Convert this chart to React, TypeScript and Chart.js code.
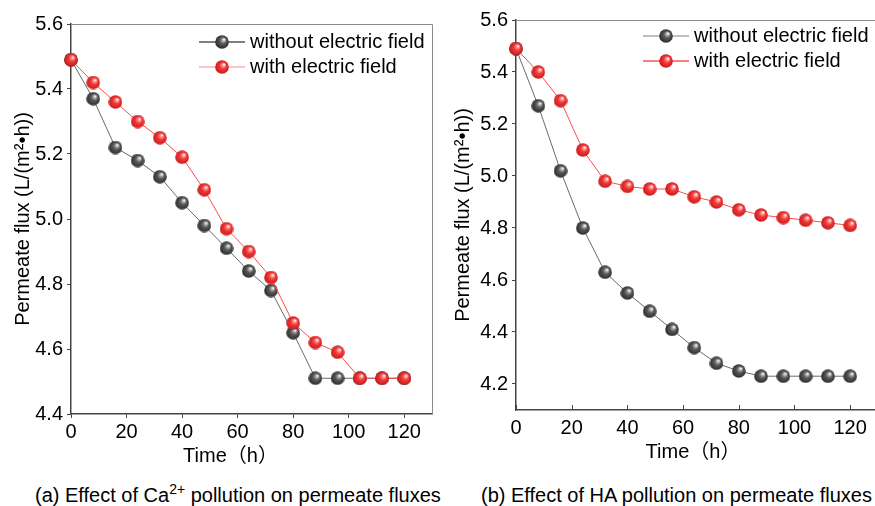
import React, { useEffect, useRef } from 'react';
import { Chart, registerables } from 'chart.js';
Chart.register(...registerables);

const timeH = [0, 8, 16, 24, 32, 40, 48, 56, 64, 72, 80, 88, 96, 104, 112, 120];
const caWithout = [5.49, 5.37, 5.22, 5.18, 5.13, 5.05, 4.98, 4.91, 4.84, 4.78, 4.65, 4.51, 4.51, 4.51, 4.51, 4.51];
const caWith = [5.49, 5.42, 5.36, 5.30, 5.25, 5.19, 5.09, 4.97, 4.90, 4.82, 4.68, 4.62, 4.59, 4.51, 4.51, 4.51];
const haWithout = [5.49, 5.27, 5.02, 4.80, 4.63, 4.55, 4.48, 4.41, 4.34, 4.28, 4.25, 4.23, 4.23, 4.23, 4.23, 4.23];
const haWith = [5.49, 5.40, 5.29, 5.10, 4.98, 4.96, 4.95, 4.95, 4.92, 4.90, 4.87, 4.85, 4.84, 4.83, 4.82, 4.81];
const xTicks = [0, 20, 40, 60, 80, 100, 120];
const yTicksA = [4.4, 4.6, 4.8, 5.0, 5.2, 5.4, 5.6];
const yTicksB = [4.2, 4.4, 4.6, 4.8, 5.0, 5.2, 5.4, 5.6];
const seriesLabels = ['without electric field', 'with electric field'];
const yTitle = 'Permeate flux (L/(m²•h))';
const xTitle = 'Time（h）';

const FONT = '"Liberation Sans", Arial, "Noto Sans CJK SC", sans-serif';

function makeSphere(stops: [number, string][]) {
  const c = document.createElement('canvas');
  const s = 14;
  c.width = s;
  c.height = s;
  const ctx = c.getContext('2d')!;
  const g = ctx.createRadialGradient(9.2, 4.4, 0.3, 7, 7, 7);
  stops.forEach(([o, col]) => g.addColorStop(o, col));
  ctx.fillStyle = g;
  ctx.beginPath();
  ctx.arc(7, 7, 6.8, 0, Math.PI * 2);
  ctx.fill();
  return c;
}

const legendPlugin = {
  id: 'insideLegend',
  afterDraw(chart: any, _args: any, opts: any) {
    const { ctx, chartArea } = chart;
    const x0 = chartArea.left + opts.dx;
    const y0 = chartArea.top + opts.dy;
    chart.data.datasets.forEach((ds: any, i: number) => {
      const y = y0 + i * opts.rowH;
      ctx.save();
      ctx.strokeStyle = opts.lineColors[i];
      ctx.lineWidth = 1.5;
      ctx.beginPath();
      ctx.moveTo(x0, y);
      ctx.lineTo(x0 + 46, y);
      ctx.stroke();
      const img = ds.pointStyle;
      ctx.drawImage(img, x0 + 23 - img.width / 2, y - img.height / 2);
      ctx.fillStyle = '#000';
      ctx.font = '20px ' + FONT;
      ctx.textBaseline = 'middle';
      ctx.textAlign = 'left';
      ctx.fillText(ds.label, x0 + 51, y);
      ctx.restore();
    });
  },
};

const framePlugin = {
  id: 'frame',
  afterDraw(chart: any, _args: any, opts: any) {
    const { ctx, chartArea: a } = chart;
    ctx.save();
    ctx.strokeStyle = opts.color;
    ctx.lineWidth = 1;
    ctx.beginPath();
    ctx.moveTo(a.left, a.top + 0.5);
    ctx.lineTo(a.right + 0.5, a.top + 0.5);
    ctx.lineTo(a.right + 0.5, a.bottom);
    ctx.stroke();
    if (opts.innerXTicks) {
      const xs = chart.scales.x;
      ctx.strokeStyle = '#444';
      ctx.lineWidth = 1;
      xs.ticks.forEach((t: any) => {
        const px = Math.round(xs.getPixelForValue(t.value)) + 0.5;
        ctx.beginPath();
        ctx.moveTo(px, a.bottom);
        ctx.lineTo(px, a.bottom - 5);
        ctx.stroke();
      });
    }
    ctx.fillStyle = '#000';
    ctx.font = '20px ' + FONT;
    ctx.textAlign = 'center';
    ctx.textBaseline = 'middle';
    ctx.fillText(opts.xTitle, (a.left + a.right) / 2 + opts.xTitleDx, a.bottom + opts.xTitleDy);
    ctx.restore();
  },
};

function makeConfig(p: any, black: HTMLCanvasElement, red: HTMLCanvasElement): any {
  return {
    type: 'line',
    data: {
      datasets: [
        {
          label: seriesLabels[0],
          data: timeH.map((t, i) => ({ x: t, y: p.without[i] })),
          borderColor: '#6a6a6a',
          borderWidth: 1,
          pointStyle: black,
          pointRadius: 7,
          clip: false,
          order: 1,
        },
        {
          label: seriesLabels[1],
          data: timeH.map((t, i) => ({ x: t, y: p.withE[i] })),
          borderColor: '#ff4a4a',
          borderWidth: 1,
          pointStyle: red,
          pointRadius: 7,
          clip: false,
          order: 0,
        },
      ],
    },
    options: {
      responsive: false,
      animation: false,
      events: [],
      layout: { padding: p.padding },
      plugins: {
        legend: { display: false },
        tooltip: { enabled: false },
        insideLegend: p.legend,
        frame: { color: '#8a8a8a', innerXTicks: p.innerXTicks, xTitle, xTitleDx: p.xTitleDx, xTitleDy: 42 },
      },
      scales: {
        x: {
          type: 'linear',
          min: 0,
          max: 130,
          afterBuildTicks: (s: any) => {
            s.ticks = xTicks.map((v) => ({ value: v }));
          },
          afterFit: (s: any) => {
            s.height = p.xAxisHeight;
          },
          ticks: {
            color: '#000',
            font: { size: 20, family: FONT },
            padding: p.innerXTicks ? 6 : 2,
            maxRotation: 0,
            callback: (v: any) => String(v),
          },
          grid: {
            drawOnChartArea: false,
            drawTicks: !p.innerXTicks,
            tickLength: 4,
            color: '#444',
          },
          border: { display: true, color: '#444', width: 1.5 },
        },
        y: {
          type: 'linear',
          min: p.yMin,
          max: 5.6,
          afterBuildTicks: (s: any) => {
            s.ticks = p.yTicks.map((v: number) => ({ value: v }));
          },
          afterFit: (s: any) => {
            s.width = p.yAxisWidth;
          },
          ticks: {
            color: '#000',
            font: { size: 20, family: FONT },
            padding: 4,
            callback: (v: any) => Number(v).toFixed(1),
          },
          grid: { drawOnChartArea: false, drawTicks: true, tickLength: 4, color: '#444' },
          border: { display: true, color: '#444', width: 1.5 },
          title: {
            display: true,
            text: yTitle,
            color: '#000',
            font: { size: 20, family: FONT },
            padding: { top: 11, bottom: 0 },
          },
        },
      },
    },
    plugins: [legendPlugin, framePlugin],
  };
}

export default function App() {
  const refA = useRef<HTMLCanvasElement>(null);
  const refB = useRef<HTMLCanvasElement>(null);

  useEffect(() => {
    const black = makeSphere([
      [0, '#ffffff'],
      [0.18, '#b0b0b0'],
      [0.45, '#5a5a5a'],
      [1, '#2a2a2a'],
    ]);
    const red = makeSphere([
      [0, '#ffffff'],
      [0.18, '#ff9a9a'],
      [0.45, '#f23a3a'],
      [1, '#c81818'],
    ]);
    const chartA = new Chart(
      refA.current!,
      makeConfig(
        {
          without: caWithout,
          withE: caWith,
          yMin: 4.4,
          yTicks: yTicksA,
          yAxisWidth: 71,
          xAxisHeight: 56,
          padding: { top: 24, right: 7, left: 0, bottom: 0 },
          legend: { dx: 128, dy: 18, rowH: 25, lineColors: ['#555555', '#ffb0b0'] },
          innerXTicks: false,
          xTitleDx: -21,
        },
        black,
        red
      )
    );
    const chartB = new Chart(
      refB.current!,
      makeConfig(
        {
          without: haWithout,
          withE: haWith,
          yMin: 4.1,
          yTicks: yTicksB,
          yAxisWidth: 76,
          xAxisHeight: 60,
          padding: { top: 20, right: 12, left: 0, bottom: 0 },
          legend: { dx: 127, dy: 16, rowH: 25, lineColors: ['#aaaaaa', '#ff5050'] },
          innerXTicks: true,
          xTitleDx: -4,
        },
        black,
        red
      )
    );
    return () => {
      chartA.destroy();
      chartB.destroy();
    };
  }, []);

  const capStyle: React.CSSProperties = {
    position: 'absolute',
    top: 483,
    fontFamily: FONT,
    fontSize: 20,
    lineHeight: '24px',
    color: '#000',
    whiteSpace: 'nowrap',
  };

  return (
    <div
      style={{
        position: 'absolute',
        left: 0,
        top: 0,
        width: 875,
        height: 506,
        overflow: 'hidden',
        background: '#fff',
      }}
    >
      <canvas
        ref={refA}
        width={440}
        height={470}
        style={{ position: 'absolute', left: 0, top: 0, width: 440, height: 470 }}
      />
      <canvas
        ref={refB}
        width={450}
        height={470}
        style={{ position: 'absolute', left: 440, top: 0, width: 450, height: 470 }}
      />
      <div style={{ ...capStyle, left: 35 }}>
        (a) Effect of Ca<sup style={{ fontSize: 14, lineHeight: 0 }}>2+</sup> pollution on permeate fluxes
      </div>
      <div style={{ ...capStyle, left: 481 }}>(b) Effect of HA pollution on permeate fluxes</div>
    </div>
  );
}
